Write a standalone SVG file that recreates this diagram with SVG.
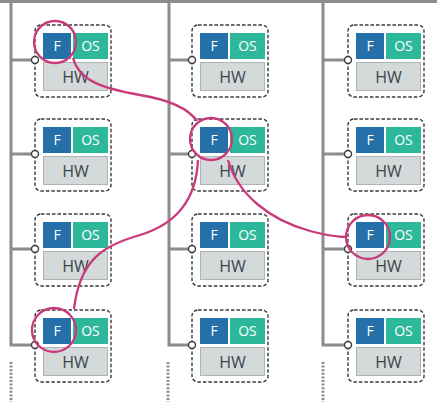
<svg xmlns="http://www.w3.org/2000/svg" width="437" height="404" viewBox="0 0 437 404">
<style>
.rail{stroke:#8c8c8c;stroke-width:3;fill:none}
.dot{stroke:#8c8c8c;stroke-width:3;fill:none;stroke-dasharray:2 1.6}
.box{fill:#fff;stroke:#3a3a3a;stroke-width:1.4;stroke-dasharray:3.5 2}
.f{fill:#2670a9}
.os{fill:#2eb89b}
.hw{fill:#d4d9da;stroke:#aeb4b6;stroke-width:1}
.lt{font-family:"Open Sans","Liberation Sans",sans-serif;font-size:14px;fill:#fff;text-anchor:middle}
.lh{font-family:"Open Sans","Liberation Sans",sans-serif;font-size:16px;fill:#3a454b;text-anchor:middle}
.pin{fill:#fff;stroke:#3a3a3a;stroke-width:1.4}
.hl{fill:none;stroke:#c93a7c;stroke-width:2.3}
</style>
<defs>
<g id="node">
<rect class="box" x="0" y="0" width="76" height="72" rx="6"/>
<rect class="f" x="8" y="8" width="28" height="26"/>
<rect class="os" x="38" y="8" width="35" height="26"/>
<rect class="hw" x="8.5" y="37.5" width="64" height="28"/>
<text class="lt" x="22" y="26">F</text>
<text class="lt" x="55.5" y="26">OS</text>
<text class="lh" x="40.5" y="57.5">HW</text>
<circle class="pin" cx="0" cy="35" r="3.5"/>
</g>
</defs>
<g id="rails">
<line class="rail" x1="0" y1="1.5" x2="437" y2="1.5"/>
<path class="rail" d="M11 0 V345 H32 M11 60 H32 M11 154 H32 M11 249 H32"/>
<path class="rail" d="M169 0 V345 H190 M169 60 H190 M169 154 H190 M169 249 H190"/>
<path class="rail" d="M323 0 V345 H345 M323 60 H345 M323 154 H345 M323 249 H345"/>
<line class="dot" x1="11" y1="362" x2="11" y2="402"/>
<line class="dot" x1="168" y1="362" x2="168" y2="402"/>
<line class="dot" x1="323" y1="362" x2="323" y2="402"/>
</g>
<g id="n-1-1"><use href="#node" x="35" y="25"/></g>
<g id="n-1-2"><use href="#node" x="35" y="119"/></g>
<g id="n-1-3"><use href="#node" x="35" y="214"/></g>
<g id="n-1-4"><use href="#node" x="35" y="310"/></g>
<g id="n-2-1"><use href="#node" x="192" y="25"/></g>
<g id="n-2-2"><use href="#node" x="192" y="119"/></g>
<g id="n-2-3"><use href="#node" x="192" y="214"/></g>
<g id="n-2-4"><use href="#node" x="192" y="310"/></g>
<g id="n-3-1"><use href="#node" x="348" y="25"/></g>
<g id="n-3-2"><use href="#node" x="348" y="119"/></g>
<g id="n-3-3"><use href="#node" x="348" y="214"/></g>
<g id="n-3-4"><use href="#node" x="348" y="310"/></g>
<g id="highlights">
<circle class="hl" cx="55" cy="42" r="21"/>
<circle class="hl" cx="211" cy="139" r="21"/>
<circle class="hl" cx="368" cy="237" r="22"/>
<circle class="hl" cx="54" cy="330" r="22"/>
</g>
<g id="connectors">
<path class="hl" d="M73 58 C79 80 100 88 140 95 C170 100 188 108 197 121"/>
<path class="hl" d="M198 160 C196 205 170 226 140 235 C105 245 80 258 74 309"/>
<path class="hl" d="M228 160 C238 195 270 220 310 231 C325 235 336 237 347 237"/>
</g>
</svg>
